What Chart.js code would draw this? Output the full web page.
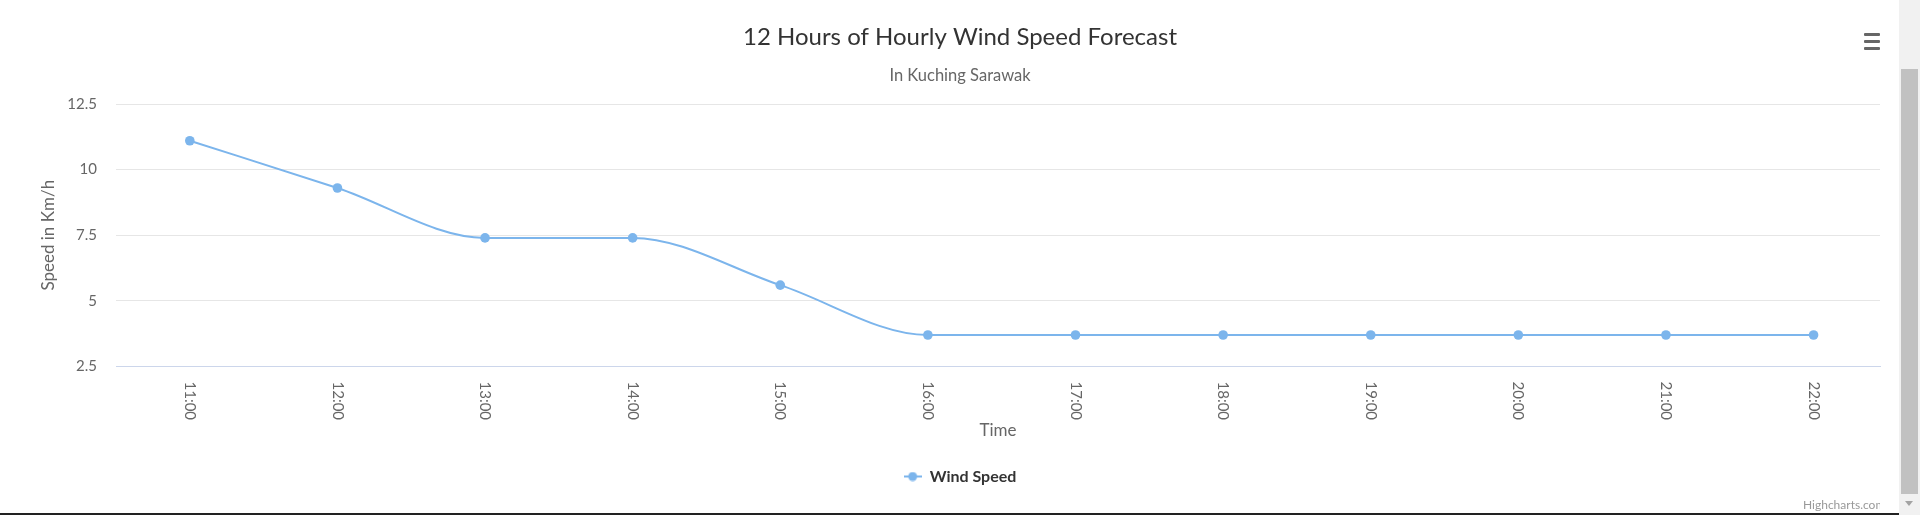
<!DOCTYPE html>
<html>
<head>
<meta charset="utf-8">
<script src="https://cdn.jsdelivr.net/npm/chart.js@4.4.1/dist/chart.umd.min.js"></script>
<style>
  html, body { margin: 0; padding: 0; overflow: hidden; background: #fff; }
  #wrap { position: relative; width: 1920px; height: 515px; }
  #c { position: absolute; left: 0; top: 0; }
  #menu { position: absolute; left: 1864px; top: 33px; width: 16px; height: 18px; }
  #menu div { position: absolute; left: 0; width: 16px; height: 3px; background: #666; border-radius: 1px; }
  #credit { position: absolute; left: 1803px; top: 497px; width: 77px; overflow: hidden; white-space: nowrap;
            font: 12px "Lato", sans-serif; color: #999; }
  #sbTrack { position: absolute; left: 1899px; top: 0; width: 21px; height: 515px; background: #f1f1f1; }
  #sbThumb { position: absolute; left: 1901px; top: 69px; width: 17px; height: 425px; background: #c1c1c1; }
  #sbArrow { position: absolute; left: 1905px; top: 501px; width: 0; height: 0;
             border-left: 4px solid transparent; border-right: 4px solid transparent; border-top: 5px solid #a3a3a3; }
  #bottomLine { position: absolute; left: 0; top: 513px; width: 1899px; height: 2px; background: #222; }
</style>
</head>
<body>
<div id="wrap">
  <canvas id="c" width="1920" height="515"></canvas>
  <div id="menu"><div style="top:0"></div><div style="top:7px"></div><div style="top:14px"></div></div>
  <div id="credit">Highcharts.com</div>
  <div id="sbTrack"></div>
  <div id="sbThumb"></div>
  <div id="sbArrow"></div>
  <div id="bottomLine"></div>
</div>
<script>
// ---- data ----
const timeLabels = ["11:00","12:00","13:00","14:00","15:00","16:00","17:00","18:00","19:00","20:00","21:00","22:00"];
const windSpeed = [11.1, 9.3, 7.4, 7.4, 5.6, 3.7, 3.7, 3.7, 3.7, 3.7, 3.7, 3.7];
const seriesName = "Wind Speed";
const chartTitle = "12 Hours of Hourly Wind Speed Forecast";
const chartSubtitle = "In Kuching Sarawak";
const yTitle = "Speed in Km/h";
const xTitle = "Time";
const yMin = 2.5, yMax = 12.5, yStep = 2.5;
const xMin = -0.5, xMax = 11.45;

const FONT = "Lato";
const LINE = "#7cb5ec";

// legend symbol: line with a dot
const sym = document.createElement("canvas");
sym.width = 18; sym.height = 10;
(function(){
  const g = sym.getContext("2d");
  g.strokeStyle = LINE; g.lineWidth = 2;
  g.beginPath(); g.moveTo(0, 5); g.lineTo(18, 5); g.stroke();
  g.fillStyle = LINE; g.beginPath(); g.arc(9, 5, 4.5, 0, Math.PI * 2); g.fill();
})();

const rotatedXLabels = {
  id: "rotatedXLabels",
  afterDraw(chart) {
    const xs = chart.scales.x;
    const ctx = chart.ctx;
    ctx.save();
    ctx.font = "15px " + FONT;
    ctx.fillStyle = "#666666";
    ctx.textAlign = "left";
    ctx.textBaseline = "middle";
    timeLabels.forEach((lab, i) => {
      const x = xs.getPixelForValue(i);
      ctx.save();
      ctx.translate(x, chart.chartArea.bottom + 15);
      ctx.rotate(Math.PI / 2);
      ctx.fillText(lab, 0, 0);
      ctx.restore();
    });
    ctx.restore();
  }
};

new Chart(document.getElementById("c"), {
  type: "line",
  data: {
    datasets: [{
      label: seriesName,
      data: windSpeed.map((v, i) => ({ x: i, y: v })),
      borderColor: LINE,
      backgroundColor: LINE,
      borderWidth: 2,
      pointRadius: 4.8,
      pointHoverRadius: 5.5,
      pointBorderWidth: 0,
      pointBackgroundColor: LINE,
      cubicInterpolationMode: "monotone",
      fill: false,
      pointStyle: "circle"
    }]
  },
  options: {
    responsive: false,
    animation: false,
    layout: { padding: { left: 0, right: 0, top: 0, bottom: 20.5 } },
    plugins: {
      title: {
        display: true, text: chartTitle, color: "#333333",
        font: { family: FONT, size: 24, weight: "normal", lineHeight: 1.2 },
        padding: { top: 22.6, bottom: 14.2 }
      },
      subtitle: {
        display: true, text: chartSubtitle, color: "#666666",
        font: { family: FONT, size: 16.5, weight: "normal", lineHeight: 1.2 },
        padding: { top: 0, bottom: 18.6 }
      },
      legend: {
        position: "bottom",
        labels: {
          usePointStyle: true,
          pointStyleWidth: 18,
          padding: 28,
          color: "#333333",
          font: { family: FONT, size: 16, weight: "bold" },
          generateLabels(chart) {
            return [{ text: seriesName, pointStyle: sym, fillStyle: LINE, strokeStyle: LINE, lineWidth: 0, datasetIndex: 0, hidden: false, fontColor: "#333333" }];
          }
        }
      },
      tooltip: { enabled: false }
    },
    scales: {
      x: {
        type: "linear",
        min: xMin, max: xMax,
        grid: { display: false, drawTicks: false },
        border: { display: true, color: "#ccd6eb", width: 1 },
        ticks: { display: false },
        title: { display: true, text: xTitle, color: "#666666", font: { family: FONT, size: 17, lineHeight: 1.2 }, padding: { top: 0, bottom: 0 } },
        afterFit(s) { s.height = 74; }
      },
      y: {
        min: yMin, max: yMax,
        grid: { color: (c) => (c.tick && c.tick.value === yMin ? "#ccd6eb" : "#e6e6e6"), lineWidth: 1, drawTicks: false },
        border: { display: false },
        ticks: { stepSize: yStep, padding: 19, color: "#666666", font: { family: FONT, size: 15 } },
        title: { display: true, text: yTitle, color: "#666666", font: { family: FONT, size: 17, lineHeight: 1.2 }, padding: { top: 38, bottom: 0 } },
        afterFit(s) { s.width = 116; }
      },
      yR: {
        position: "right",
        display: true,
        grid: { display: false, drawTicks: false },
        border: { display: false },
        ticks: { display: false },
        afterFit(s) { s.width = 40; }
      }
    }
  },
  plugins: [rotatedXLabels]
});
</script>
</body>
</html>
